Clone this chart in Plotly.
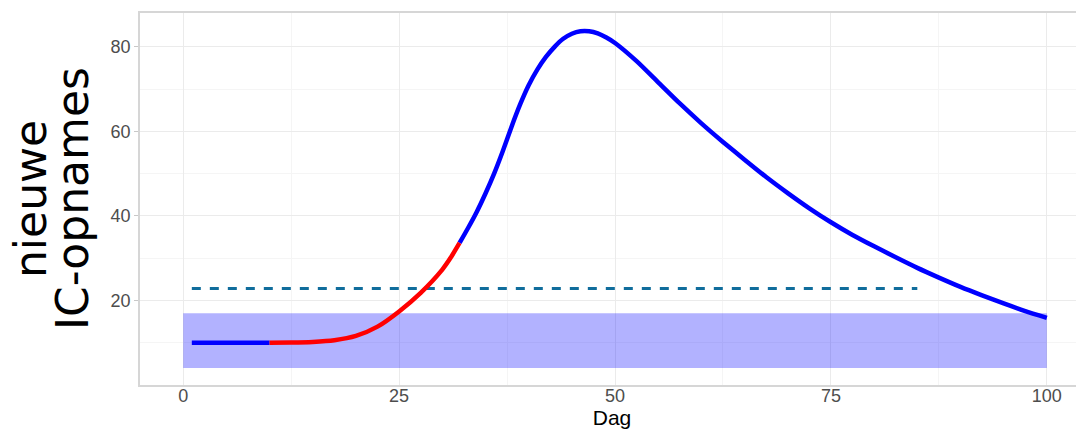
import plotly.graph_objects as go

# daily new ICU admissions
days = [1, 5, 10, 12.5, 15, 17.5, 20, 22.5, 25, 27.5, 30, 31, 32, 33, 34, 35, 36, 37, 38, 39,
        40, 41, 42, 43, 44, 45, 46, 47, 48, 49, 50, 52.5, 55, 57.5, 60, 62.5, 65, 67.5,
        70, 72.5, 75, 77.5, 80, 82.5, 85, 87.5, 90, 92.5, 95, 97.5, 100]
admissions = [10, 10, 10, 10.05, 10.2, 10.6, 11.6, 13.8, 17.4, 21.8, 27.3, 30.2, 33.6, 37.2, 41.0,
              45.3, 50.0, 55.3, 61.0, 66.3, 70.9, 74.6, 77.6, 80.0, 81.9, 83.1, 83.7, 83.7, 83.2,
              82.2, 80.9, 76.6, 71.6, 66.6, 61.9, 57.5, 53.3, 49.2, 45.4, 41.8, 38.5, 35.5, 32.8,
              30.2, 27.7, 25.4, 23.2, 21.2, 19.3, 17.5, 15.9]

# red stretch of the curve
red_start, red_end = 10, 32

# shaded band
band_days = [0, 100]
band_low = [4, 4]
band_high = [17, 17]

# dashed threshold
threshold_days = [1, 85]
threshold_value = 22.8

x_ticks = [0, 25, 50, 75, 100]
y_ticks = [20, 40, 60, 80]

tick_font = dict(family="Liberation Sans, Arial, sans-serif", size=18, color="#4d4d4d")

fig = go.Figure()

fig.add_trace(go.Scatter(x=band_days, y=band_low, mode="lines", line=dict(width=0),
                         hoverinfo="skip", showlegend=False))
fig.add_trace(go.Scatter(x=band_days, y=band_high, mode="lines", line=dict(width=0),
                         fill="tonexty", fillcolor="rgba(0,0,255,0.3)",
                         hoverinfo="skip", showlegend=False))

fig.add_trace(go.Scatter(x=threshold_days, y=[threshold_value] * len(threshold_days),
                         mode="lines", line=dict(color="#106d9c", width=3, dash="9px,9px"),
                         showlegend=False))

def segment(lo, hi):
    pts = [(d, v) for d, v in zip(days, admissions) if lo <= d <= hi]
    return [p[0] for p in pts], [p[1] for p in pts]

for lo, hi, col in [(days[0], red_start, "#0000ff"), (red_end, days[-1], "#0000ff"),
                    (red_start, red_end, "#ff0000")]:
    sx, sy = segment(lo, hi)
    fig.add_trace(go.Scatter(x=sx, y=sy, mode="lines",
                             line=dict(color=col, width=4.5, shape="spline", smoothing=0.6),
                             showlegend=False))

# the page has an 8px body margin, so the figure is 8px smaller than the window
fig.update_layout(
    width=1076, height=423,
    margin=dict(l=132, r=0, t=5, b=46),
    plot_bgcolor="white", paper_bgcolor="white",
    xaxis=dict(
        range=[-5, 104.3], tickvals=x_ticks, tickfont=tick_font,
        showgrid=True, gridcolor="#ebebeb", gridwidth=1,
        minor=dict(tickvals=[12.5, 37.5, 62.5, 87.5], showgrid=True, gridcolor="#f5f5f5", gridwidth=1),
        zeroline=False, showline=True, mirror=True, linecolor="#d6d6d6", linewidth=1.5,
        ticks="", ticklabelstandoff=-6,
        title=dict(text="Dag", font=dict(family="Liberation Sans, Arial, sans-serif", size=21, color="black"),
                   standoff=0),
    ),
    yaxis=dict(
        range=[0, 88], tickvals=y_ticks, tickfont=tick_font,
        showgrid=True, gridcolor="#ebebeb", gridwidth=1,
        minor=dict(tickvals=[10, 30, 50, 70], showgrid=True, gridcolor="#f5f5f5", gridwidth=1),
        zeroline=False, showline=True, mirror=False, linecolor="#d6d6d6", linewidth=1.5,
        ticks="outside", ticklen=4, tickcolor="#c8c8c8", tickwidth=1,
    ),
    annotations=[
        dict(text="nieuwe", textangle=-90, xref="paper", yref="paper", x=-0.1165, y=0.5,
             xanchor="center", yanchor="middle", showarrow=False,
             font=dict(family="DejaVu Sans", size=44, color="black")),
        dict(text="IC-opnames", textangle=-90, xref="paper", yref="paper", x=-0.072, y=0.5,
             xanchor="center", yanchor="middle", showarrow=False,
             font=dict(family="DejaVu Sans", size=44, color="black")),
    ],
)

fig.write_html("out.html")
